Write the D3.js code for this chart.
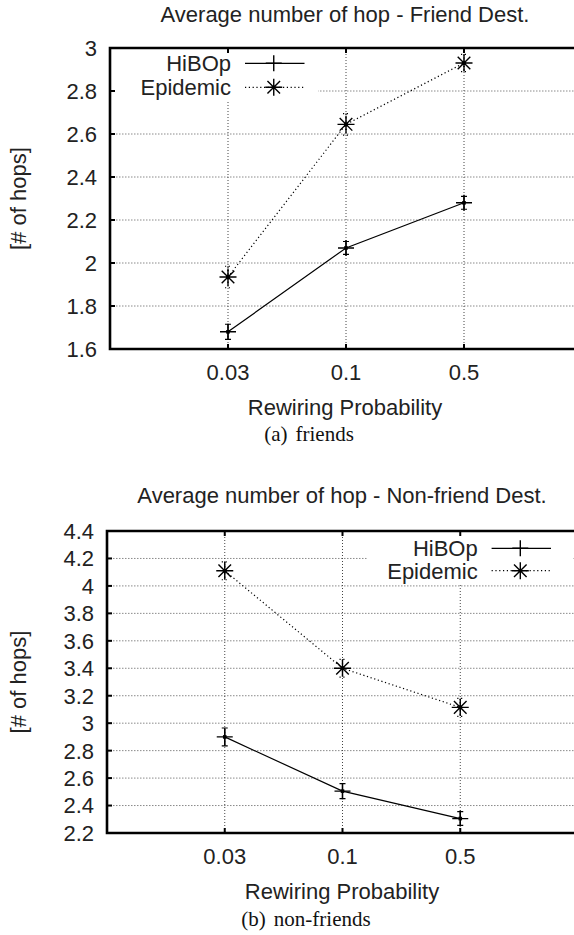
<!DOCTYPE html>
<html><head><meta charset="utf-8">
<script src="https://cdn.jsdelivr.net/npm/d3@7"></script>
<style>body{margin:0;background:#fff;} svg{display:block;}</style>
</head><body>
<svg id="c" width="574" height="935"></svg>
<script>
// ---- data ----
const categories = ["0.03", "0.1", "0.5"];
const seriesNames = ["HiBOp", "Epidemic"];
const friendsHiBOp = [1.68, 2.07, 2.28];
const friendsHiBOpErr = [0.035, 0.03, 0.03];
const friendsEpidemic = [1.935, 2.645, 2.93];
const friendsEpidemicErr = [0.05, 0.05, 0.04];
const nonFriendsHiBOp = [2.90, 2.505, 2.305];
const nonFriendsHiBOpErr = [0.065, 0.055, 0.05];
const nonFriendsEpidemic = [4.11, 3.40, 3.115];
const nonFriendsEpidemicErr = [0.065, 0.065, 0.065];
const friendsYTicks = [1.6, 1.8, 2, 2.2, 2.4, 2.6, 2.8, 3];
const friendsYTickLabels = ["1.6", "1.8", "2", "2.2", "2.4", "2.6", "2.8", "3"];
const nonFriendsYTicks = [2.2, 2.4, 2.6, 2.8, 3, 3.2, 3.4, 3.6, 3.8, 4, 4.2, 4.4];
const nonFriendsYTickLabels = ["2.2", "2.4", "2.6", "2.8", "3", "3.2", "3.4", "3.6", "3.8", "4", "4.2", "4.4"];
const titles = ["Average number of hop - Friend Dest.", "Average number of hop - Non-friend Dest."];
const captionTags = ["(a)", "(b)"];
const captionTexts = ["friends", "non-friends"];
const xLabel = "Rewiring Probability";
const yLabel = "[# of hops]";

// ---- layout ----
const panels = [
  {
    title: titles[0], tag: captionTags[0], caption: captionTexts[0],
    series: [{v: friendsHiBOp, e: friendsHiBOpErr}, {v: friendsEpidemic, e: friendsEpidemicErr}],
    ticks: friendsYTicks, tickLabels: friendsYTickLabels,
    xr: [110, 582], yd: [1.6, 3], yr: [349, 48],
    titleY: 22, titleX: 345,
    legend: {box: [110, 48, 318, 100], textRight: 231, l1: 245, l2: 304.5, ys: [63.3, 87.3]},
    capY: 441
  },
  {
    title: titles[1], tag: captionTags[1], caption: captionTexts[1],
    series: [{v: nonFriendsHiBOp, e: nonFriendsHiBOpErr}, {v: nonFriendsEpidemic, e: nonFriendsEpidemicErr}],
    ticks: nonFriendsYTicks, tickLabels: nonFriendsYTickLabels,
    xr: [107, 578], yd: [2.2, 4.4], yr: [833, 531],
    titleY: 503, titleX: 342,
    legend: {box: [368, 531, 573, 583], textRight: 477.7, l1: 491.6, l2: 551, ys: [548.3, 570.7]},
    capY: 926
  }
];

const svg = d3.select("#c");
const SANS = "'Liberation Sans', Arial, Helvetica, sans-serif";
const SERIF = "'Liberation Serif', 'Times New Roman', serif";
const FS = 22;

const plusPath = "M-8,0H8M0,-8V8";
const starPath = "M-8.5,0H8.5M0,-8.5V8.5M-6.3,-6.3L6.3,6.3M-6.3,6.3L6.3,-6.3";
const styles = [
  {dash: null, marker: plusPath},
  {dash: "1.2,2.6", marker: starPath}
];

panels.forEach(p => {
  const x = d3.scaleLinear().domain([0, 4]).range(p.xr);
  const y = d3.scaleLinear().domain(p.yd).range(p.yr);
  const g = svg.append("g");
  const x0 = p.xr[0], x1 = p.xr[1], yTop = p.yr[1], yBot = p.yr[0];

  // grid horizontal
  g.append("g").selectAll("line").data(p.ticks.filter(t => t > p.yd[0] + 1e-9 && t < p.yd[1] - 1e-9))
    .join("line")
    .attr("x1", x0).attr("x2", x1)
    .attr("y1", d => y(d)).attr("y2", d => y(d))
    .attr("stroke", "#8a8a8a").attr("stroke-width", 1).attr("stroke-dasharray", "1.5,1.5");
  // grid vertical
  g.append("g").selectAll("line").data(categories)
    .join("line")
    .attr("x1", (d, i) => x(i + 1)).attr("x2", (d, i) => x(i + 1))
    .attr("y1", yTop).attr("y2", yBot)
    .attr("stroke", "#444").attr("stroke-width", 1).attr("stroke-dasharray", "1,2");

  // legend background
  const lb = p.legend.box;
  g.append("rect").attr("x", lb[0]).attr("y", lb[1]).attr("width", lb[2] - lb[0]).attr("height", lb[3] - lb[1])
    .attr("fill", "#fff");

  // series
  p.series.forEach((s, si) => {
    const st = styles[si];
    const line = d3.line().x((d, i) => x(i + 1)).y(d => y(d));
    g.append("path").attr("d", line(s.v)).attr("fill", "none")
      .attr("stroke", "#000").attr("stroke-width", 1.2)
      .attr("stroke-dasharray", st.dash);
    const pts = g.append("g").selectAll("g").data(s.v).join("g")
      .attr("transform", (d, i) => `translate(${x(i + 1)},${y(d)})`);
    // error bars
    pts.append("path")
      .attr("d", (d, i) => {
        const a = y(d + s.e[i]) - y(d), b = y(d - s.e[i]) - y(d);
        return `M0,${a}V${b}M-3,${a}H3M-3,${b}H3`;
      })
      .attr("stroke", "#000").attr("stroke-width", 1.2).attr("fill", "none")
      .attr("stroke-dasharray", st.dash);
    pts.append("path").attr("d", st.marker).attr("stroke", "#000").attr("stroke-width", 1.4).attr("fill", "none");
    pts.append("rect").attr("x", -1.8).attr("y", -1.8).attr("width", 3.6).attr("height", 3.6).attr("fill", "#000");
  });

  // legend entries
  seriesNames.forEach((name, si) => {
    const ly = p.legend.ys[si];
    g.append("text").attr("x", p.legend.textRight).attr("y", ly).attr("dy", "0.36em")
      .attr("text-anchor", "end").attr("font-family", SANS).attr("font-size", FS).attr("fill", "#222").text(name);
    g.append("line").attr("x1", p.legend.l1).attr("x2", p.legend.l2).attr("y1", ly).attr("y2", ly)
      .attr("stroke", "#000").attr("stroke-width", 1.2).attr("stroke-dasharray", styles[si].dash);
    g.append("path").attr("transform", `translate(${(p.legend.l1 + p.legend.l2) / 2 - 1},${ly})`)
      .attr("d", styles[si].marker).attr("stroke", "#000").attr("stroke-width", 1.4).attr("fill", "none");
  });

  // frame
  const frame = g.append("g").attr("stroke", "#000").attr("stroke-width", 2.6).attr("fill", "none");
  frame.append("path").attr("d", `M${x1},${yTop}H${x0}V${yBot}H${x1}V${yTop}`).attr("stroke-linejoin", "miter");

  // y ticks
  g.append("g").selectAll("line").data(p.ticks).join("line")
    .attr("x1", x0).attr("x2", x0 + 5).attr("y1", d => y(d)).attr("y2", d => y(d))
    .attr("stroke", "#000").attr("stroke-width", 2);
  // x ticks (bottom and top)
  g.append("g").selectAll("line").data(categories).join("line")
    .attr("x1", (d, i) => x(i + 1)).attr("x2", (d, i) => x(i + 1))
    .attr("y1", yBot).attr("y2", yBot - 5).attr("stroke", "#000").attr("stroke-width", 2);
  g.append("g").selectAll("line").data(categories).join("line")
    .attr("x1", (d, i) => x(i + 1)).attr("x2", (d, i) => x(i + 1))
    .attr("y1", yTop).attr("y2", yTop + 5).attr("stroke", "#000").attr("stroke-width", 2);

  // y tick labels
  g.append("g").selectAll("text").data(p.ticks).join("text")
    .attr("x", x0 - 13).attr("y", d => y(d)).attr("dy", "0.36em")
    .attr("text-anchor", "end").attr("font-family", SANS).attr("font-size", FS).attr("fill", "#222")
    .text((d, i) => p.tickLabels[i]);
  // x tick labels
  g.append("g").selectAll("text").data(categories).join("text")
    .attr("x", (d, i) => x(i + 1)).attr("y", yBot + 31)
    .attr("text-anchor", "middle").attr("font-family", SANS).attr("font-size", FS).attr("fill", "#222")
    .text(d => d);

  // title
  g.append("text").attr("x", p.titleX).attr("y", p.titleY).attr("text-anchor", "middle")
    .attr("font-family", SANS).attr("font-size", FS).attr("fill", "#222").text(p.title);
  // x label
  g.append("text").attr("x", p.titleX).attr("y", yBot + 66).attr("text-anchor", "middle")
    .attr("font-family", SANS).attr("font-size", FS).attr("fill", "#222").text(xLabel);
  // y label
  g.append("text").attr("transform", `translate(18,${(yTop + yBot) / 2}) rotate(-90)`)
    .attr("dy", "0.36em").attr("text-anchor", "middle")
    .attr("font-family", SANS).attr("font-size", FS).attr("fill", "#222").text(yLabel);
  // caption
  const cap = g.append("text").attr("x", p.titleX - 36 + 0).attr("y", p.capY).attr("text-anchor", "middle")
    .attr("font-family", SERIF).attr("font-size", 21).attr("fill", "#111");
  cap.append("tspan").text(p.tag);
  cap.append("tspan").attr("dx", 8).text(p.caption);
});
</script>
</body></html>
